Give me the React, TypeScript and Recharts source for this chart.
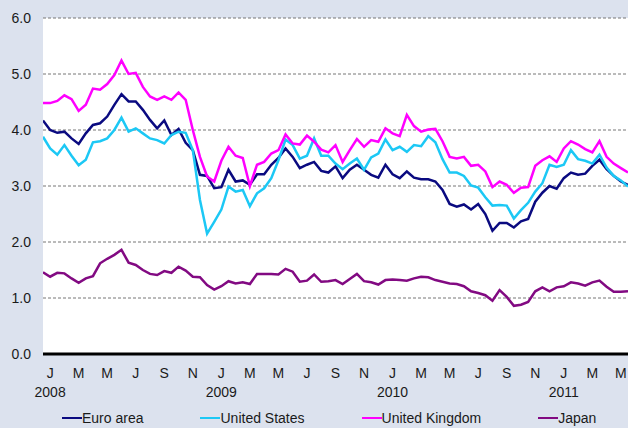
import React from 'react';
import { LineChart, Line, XAxis, YAxis, CartesianGrid, Legend } from 'recharts';

// half-month steps starting January 2008
const EURO_AREA = [4.17,4.0,3.95,3.97,3.85,3.75,3.94,4.09,4.12,4.24,4.45,4.64,4.51,4.51,4.36,4.18,4.03,4.17,3.91,4.02,3.77,3.64,3.2,3.18,2.96,2.98,3.29,3.08,3.1,3.02,3.21,3.21,3.38,3.5,3.67,3.52,3.32,3.38,3.43,3.27,3.24,3.35,3.14,3.29,3.38,3.29,3.2,3.15,3.38,3.21,3.14,3.26,3.15,3.12,3.12,3.08,2.93,2.68,2.63,2.67,2.58,2.68,2.5,2.2,2.34,2.34,2.26,2.37,2.41,2.72,2.88,3.0,2.95,3.14,3.24,3.2,3.22,3.36,3.47,3.3,3.18,3.08,3.02];
const UNITED_STATES = [3.88,3.67,3.56,3.73,3.54,3.37,3.47,3.78,3.8,3.85,4.0,4.22,3.97,4.03,3.94,3.85,3.82,3.76,3.91,3.97,3.95,3.64,2.75,2.15,2.36,2.58,2.99,2.9,2.93,2.64,2.87,2.96,3.14,3.46,3.83,3.73,3.49,3.54,3.85,3.54,3.54,3.4,3.3,3.4,3.49,3.29,3.51,3.58,3.83,3.64,3.7,3.61,3.73,3.71,3.89,3.78,3.48,3.24,3.24,3.18,3.01,2.97,2.8,2.65,2.66,2.65,2.42,2.57,2.7,2.9,3.05,3.38,3.34,3.38,3.64,3.48,3.45,3.4,3.56,3.33,3.18,3.1,2.99];
const UNITED_KINGDOM = [4.48,4.48,4.52,4.62,4.55,4.34,4.45,4.74,4.72,4.82,4.98,5.24,5.0,5.02,4.77,4.6,4.54,4.6,4.54,4.67,4.54,4.0,3.52,3.17,3.08,3.45,3.7,3.54,3.5,3.0,3.38,3.43,3.58,3.64,3.92,3.76,3.74,3.9,3.79,3.65,3.6,3.73,3.43,3.64,3.84,3.7,3.82,3.79,4.03,3.94,3.89,4.27,4.07,3.97,4.01,4.02,3.8,3.52,3.49,3.52,3.36,3.38,3.26,2.98,3.08,3.02,2.88,2.97,2.98,3.36,3.46,3.53,3.43,3.67,3.8,3.74,3.66,3.6,3.8,3.52,3.4,3.32,3.24];
const JAPAN = [1.46,1.38,1.45,1.44,1.35,1.27,1.35,1.39,1.62,1.7,1.77,1.86,1.63,1.59,1.5,1.43,1.41,1.48,1.45,1.56,1.49,1.38,1.37,1.23,1.15,1.21,1.3,1.26,1.28,1.25,1.43,1.43,1.43,1.42,1.52,1.47,1.29,1.31,1.42,1.29,1.3,1.32,1.25,1.34,1.43,1.3,1.28,1.24,1.32,1.33,1.32,1.31,1.35,1.38,1.37,1.32,1.29,1.26,1.25,1.21,1.12,1.09,1.05,0.95,1.14,1.02,0.86,0.88,0.93,1.12,1.19,1.12,1.19,1.21,1.28,1.26,1.22,1.28,1.31,1.2,1.11,1.11,1.12];

const TICK_POS = [0.5,2.5,4.5,6.5,8.5,10.5,12.5,14.5,16.5,18.5,20.5,22.5,24.5,26.5,28.5,30.5,32.5,34.5,36.5,38.5,40.5];
const MONTH_LETTERS = ['J','M','M','J','S','N'];
const YEARS = ['2008','2009','2010','2011'];
const Y_TICKS = [0,1,2,3,4,5,6];

const SERIES = [
  { key: 'euro', name: 'Euro area', color: '#0a0a80' },
  { key: 'us', name: 'United States', color: '#1cc8f5' },
  { key: 'uk', name: 'United Kingdom', color: '#ff00ff' },
  { key: 'jp', name: 'Japan', color: '#820a82' },
];

const data = EURO_AREA.map((v, i) => ({
  t: i * 0.5,
  euro: v,
  us: UNITED_STATES[i],
  uk: UNITED_KINGDOM[i],
  jp: JAPAN[i],
}));

const FONT = 'Liberation Sans, Arial, sans-serif';
const TEXT = '#1a1a1a';

const XTick = (props: any) => {
  const { x, y, payload } = props;
  const i = TICK_POS.indexOf(payload.value);
  const letter = MONTH_LETTERS[i % 6];
  const year = i % 6 === 0 ? YEARS[i / 6] : null;
  return (
    <g>
      <text x={x} y={y + 24} textAnchor="middle" fontSize={14} fontFamily={FONT} fill={TEXT}>{letter}</text>
      {year && (
        <text x={x} y={y + 43} textAnchor="middle" fontSize={14} fontFamily={FONT} fill={TEXT}>{year}</text>
      )}
    </g>
  );
};

const renderLegend = () => (
  <div style={{ display: 'flex', paddingLeft: 62, gap: 57, fontFamily: FONT, fontSize: 14, color: TEXT, lineHeight: '18px' }}>
    {SERIES.map((s) => (
      <div key={s.key} style={{ display: 'flex', alignItems: 'center' }}>
        <span style={{ display: 'inline-block', width: 20, height: 2.5, background: s.color }} />
        <span>{s.name}</span>
      </div>
    ))}
  </div>
);

export default function App() {
  return (
    <div style={{ position: 'absolute', left: 0, top: 0, width: 628, height: 428, background: '#dce2ee', overflow: 'hidden' }}>
      <LineChart width={628} height={428} data={data} margin={{ top: 18, right: 0, bottom: 0, left: 0 }}>
        <CartesianGrid vertical={false} fill="#ffffff" stroke="#777" strokeDasharray="3 2" />
        <XAxis
          dataKey="t"
          type="number"
          domain={[0, 41]}
          ticks={TICK_POS}
          interval={0}
          height={74}
          tickLine={false}
          tickSize={0}
          tickMargin={0}
          axisLine={{ stroke: '#000', strokeWidth: 3 }}
          tick={<XTick />}
          allowDataOverflow
        />
        <YAxis
          width={43}
          domain={[0, 6]}
          ticks={Y_TICKS}
          interval={0}
          axisLine={false}
          tickLine={false}
          tickSize={0}
          tickMargin={12}
          tickFormatter={(v: number) => v.toFixed(1)}
          tick={{ fontSize: 14, fontFamily: FONT, fill: TEXT }}
        />
        {SERIES.map((s) => (
          <Line key={s.key} type="linear" dataKey={s.key} name={s.name} stroke={s.color} strokeWidth={2.5} dot={false} isAnimationActive={false} />
        ))}
        <Legend verticalAlign="middle" align="center" layout="horizontal" wrapperStyle={{ top: 409, left: 0, width: 628 }} content={renderLegend} />
      </LineChart>
    </div>
  );
}
